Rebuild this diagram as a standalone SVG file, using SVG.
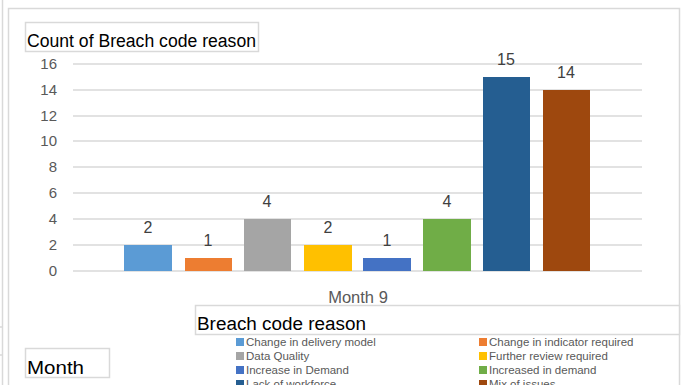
<svg xmlns="http://www.w3.org/2000/svg" width="688" height="385" viewBox="0 0 688 385">
<style>
text{font-family:"Liberation Sans",Arial,sans-serif}
.frame{fill:none;stroke:#d9d9d9;stroke-width:1.5}
.grid{stroke:#d9d9d9;stroke-width:1.5}
.ax{font-size:15px;fill:#595959;text-anchor:end}
.val{font-size:16px;fill:#404040;text-anchor:middle}
.lg{font-size:11.5px;fill:#595959}
.box{fill:#fff;stroke:#d9d9d9;stroke-width:1.5}
.big{font-size:18px;fill:#000}
</style>
<rect width="688" height="385" fill="#fff"/>
<g id="frames">
<line x1="2.5" y1="0" x2="2.5" y2="385" class="frame"/>
<line x1="0" y1="327" x2="3" y2="327" class="frame"/>
<line x1="0" y1="355" x2="3" y2="355" class="frame"/>
<polyline points="8.5,385 8.5,8.5 679.5,8.5 679.5,385" class="frame"/>
</g>
<g id="title">
<rect x="25.5" y="22.5" width="233" height="29" class="box"/>
<text x="27" y="47" class="big" textLength="229" lengthAdjust="spacingAndGlyphs">Count of Breach code reason</text>
</g>
<g id="axis">
<line x1="73" y1="64" x2="642" y2="64" class="grid"/>
<line x1="73" y1="90" x2="642" y2="90" class="grid"/>
<line x1="73" y1="116" x2="642" y2="116" class="grid"/>
<line x1="73" y1="141" x2="642" y2="141" class="grid"/>
<line x1="73" y1="167" x2="642" y2="167" class="grid"/>
<line x1="73" y1="193" x2="642" y2="193" class="grid"/>
<line x1="73" y1="219" x2="642" y2="219" class="grid"/>
<line x1="73" y1="245" x2="642" y2="245" class="grid"/>
<line x1="73" y1="271" x2="642" y2="271" class="grid"/>
<text x="57" y="69" class="ax">16</text>
<text x="57" y="95" class="ax">14</text>
<text x="57" y="121" class="ax">12</text>
<text x="57" y="146" class="ax">10</text>
<text x="57" y="172" class="ax">8</text>
<text x="57" y="198" class="ax">6</text>
<text x="57" y="224" class="ax">4</text>
<text x="57" y="250" class="ax">2</text>
<text x="57" y="276" class="ax">0</text>
<text x="358" y="303" font-size="16.5" fill="#595959" text-anchor="middle">Month 9</text>
</g>
<g id="bars">
<rect x="124" y="245" width="48" height="26" fill="#5B9BD5"/>
<rect x="185" y="258" width="47" height="13" fill="#ED7D31"/>
<rect x="244" y="219" width="47" height="52" fill="#A5A5A5"/>
<rect x="304" y="245" width="48" height="26" fill="#FFC000"/>
<rect x="363" y="258" width="48" height="13" fill="#4472C4"/>
<rect x="423" y="219" width="48" height="52" fill="#70AD47"/>
<rect x="483" y="77" width="47" height="194" fill="#255E91"/>
<rect x="543" y="90" width="47" height="181" fill="#9E480E"/>
<text x="148" y="233" class="val">2</text>
<text x="208" y="246" class="val">1</text>
<text x="267" y="207" class="val">4</text>
<text x="328" y="233" class="val">2</text>
<text x="387" y="246" class="val">1</text>
<text x="447" y="207" class="val">4</text>
<text x="506" y="65" class="val">15</text>
<text x="566" y="78" class="val">14</text>
</g>
<g id="legend">
<rect x="195.5" y="305.5" width="484" height="29" class="box"/>
<text x="197" y="330" class="big" textLength="169" lengthAdjust="spacingAndGlyphs">Breach code reason</text>
<rect x="236" y="338" width="8" height="8" fill="#5B9BD5"/>
<text x="246" y="346" class="lg">Change in delivery model</text>
<rect x="479" y="338" width="8" height="8" fill="#ED7D31"/>
<text x="489" y="346" class="lg">Change in indicator required</text>
<rect x="236" y="352" width="8" height="8" fill="#A5A5A5"/>
<text x="246" y="360" class="lg">Data Quality</text>
<rect x="479" y="352" width="8" height="8" fill="#FFC000"/>
<text x="489" y="360" class="lg">Further review required</text>
<rect x="236" y="366" width="8" height="8" fill="#4472C4"/>
<text x="246" y="374" class="lg">Increase in Demand</text>
<rect x="479" y="366" width="8" height="8" fill="#70AD47"/>
<text x="489" y="374" class="lg">Increased in demand</text>
<rect x="236" y="380" width="8" height="8" fill="#255E91"/>
<text x="246" y="388" class="lg">Lack of workforce</text>
<rect x="479" y="380" width="8" height="8" fill="#9E480E"/>
<text x="489" y="388" class="lg">Mix of issues</text>
</g>
<g id="month">
<rect x="25.5" y="348.5" width="84" height="29" class="box"/>
<text x="27" y="374" class="big" textLength="57" lengthAdjust="spacingAndGlyphs">Month</text>
</g>
</svg>
